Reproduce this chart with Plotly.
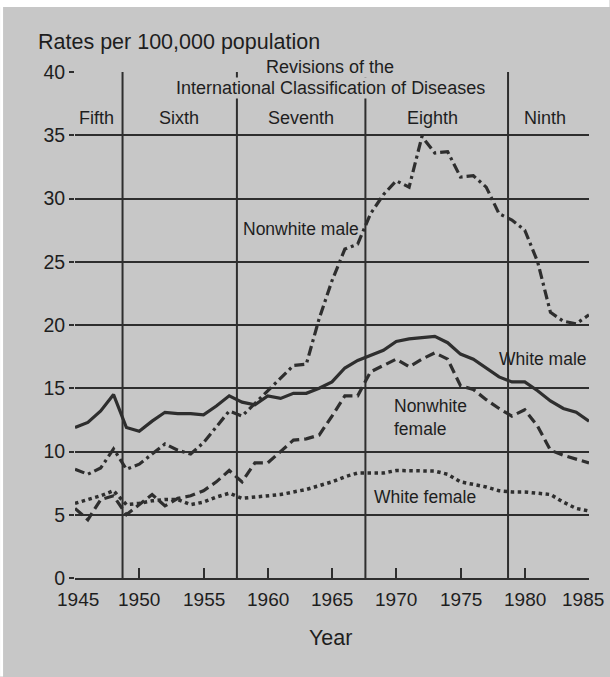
import plotly.graph_objects as go

years = list(range(1945, 1986))

white_male = [11.9, 12.3, 13.2, 14.5, 11.9, 11.6, 12.4, 13.1, 13.0, 13.0,
              12.9, 13.6, 14.4, 13.9, 13.7, 14.4, 14.2, 14.6, 14.6, 15.0,
              15.5, 16.6, 17.2, 17.6, 18.0, 18.7, 18.9, 19.0, 19.1, 18.6,
              17.7, 17.3, 16.6, 15.9, 15.5, 15.5, 14.8, 14.0, 13.4, 13.1, 12.4]

nonwhite_male = [8.6, 8.2, 8.7, 10.2, 8.6, 9.0, 9.8, 10.6, 10.1, 9.8,
                 10.7, 12.0, 13.2, 12.8, 13.8, 14.8, 15.8, 16.8, 16.9, 20.5,
                 23.5, 26.0, 26.4, 28.8, 30.3, 31.4, 30.9, 34.9, 33.6, 33.7,
                 31.7, 31.8, 30.9, 28.8, 28.3, 27.5, 25.0, 21.0, 20.3, 20.1, 20.8]

nonwhite_female = [5.5, 4.6, 6.2, 6.5, 5.0, 5.8, 6.6, 5.7, 6.3, 6.5,
                   6.9, 7.6, 8.5, 7.6, 9.1, 9.1, 10.0, 10.9, 11.0, 11.3,
                   12.8, 14.4, 14.4, 16.3, 16.8, 17.3, 16.7, 17.3, 17.8, 17.3,
                   15.2, 14.9, 14.1, 13.4, 12.8, 13.3, 12.0, 10.1, 9.7, 9.4, 9.1]

white_female = [5.9, 6.2, 6.5, 6.9, 5.8, 5.9, 6.1, 6.2, 6.2, 5.8,
                6.0, 6.4, 6.7, 6.3, 6.4, 6.5, 6.6, 6.8, 7.0, 7.3,
                7.6, 8.0, 8.3, 8.3, 8.3, 8.5, 8.5, 8.45, 8.45, 8.2,
                7.6, 7.4, 7.2, 6.9, 6.8, 6.8, 6.7, 6.6, 6.0, 5.5, 5.3]

revision_breaks = [1948.7, 1957.6, 1967.6, 1978.7]
revision_names = ["Fifth", "Sixth", "Seventh", "Eighth", "Ninth"]
x_ticks = list(range(1945, 1986, 5))
x_tick_labels = [str(v) for v in x_ticks]
y_ticks = list(range(0, 41, 5))

# ---- layout geometry (pixels) ----
W, H = 610, 677
L, R, T, B = 75, 20.5, 72, 98.5
PW = W - L - R
PH = H - T - B

def px(xp):
    return (xp - L) / PW

def py(yp):
    return (H - B - yp) / PH

BG = "#c7c7c7"
INK = "#2e2e2e"
TXT = "#1e1e1e"
FONT = "Liberation Sans, Arial, Helvetica, sans-serif"

fig = go.Figure()

series = [
    (white_male, "solid", 3.2),
    (nonwhite_female, "10px,5px", 3.2),
    (nonwhite_male, "10px,4px,3px,4px", 3.2),
    (white_female, "3.5px,3.5px", 3.5),
]
for vals, dash, w in series:
    fig.add_trace(go.Scatter(x=years, y=vals, mode="lines",
                             line=dict(color=INK, width=w, dash=dash),
                             hoverinfo="skip", showlegend=False))

shapes = []
for xb in revision_breaks:
    shapes.append(dict(type="line", xref="x", yref="y", x0=xb, x1=xb, y0=0, y1=40,
                       line=dict(color=INK, width=2), layer="below"))
# white strips at the edges of the scan
shapes.append(dict(type="rect", xref="paper", yref="paper", x0=px(0), x1=px(W),
                   y0=py(7), y1=py(0), fillcolor="white", line=dict(width=0), layer="below"))
shapes.append(dict(type="rect", xref="paper", yref="paper", x0=px(0), x1=px(3),
                   y0=py(H), y1=py(0), fillcolor="white", line=dict(width=0), layer="below"))

ann = []
def txt(text, xp, yp, size=16, xanchor="center", bg=None, pad=1, align="center"):
    d = dict(text=text, xref="paper", yref="paper", x=px(xp), y=py(yp),
             xanchor=xanchor, yanchor="middle", showarrow=False, align=align,
             font=dict(family=FONT, size=size, color=TXT), borderpad=pad)
    if bg:
        d["bgcolor"] = bg
    ann.append(d)

txt("Rates per 100,000 population", 36, 42, size=21.5, xanchor="left")
txt("Revisions of the", 330, 67, size=18, bg=BG, pad=0)
txt("International Classification of Diseases", 331, 88.5, size=18, bg=BG, pad=0)
for name, xc in zip(revision_names, [97, 179, 301.5, 432.7, 545]):
    txt(name, xc, 118, size=18)
txt("Nonwhite male", 241, 229, size=17.5, xanchor="left")
txt("White male", 497, 359, size=17.5, xanchor="left")
txt("Nonwhite<br>female", 392, 418, size=17.5, xanchor="left", align="left")
txt("White female", 372, 497, size=17.5, xanchor="left")
txt("Year", 331, 639, size=21.5)

# x tick labels placed at their axis values
for v, lab in zip(x_ticks, x_tick_labels):
    ann.append(dict(text=lab, xref="x", yref="paper", x=v, y=py(600),
                    xanchor="center", yanchor="middle", showarrow=False,
                    xshift=(-6 if v == x_ticks[-1] else (3 if v == x_ticks[0] else 0)),
                    font=dict(family=FONT, size=19, color=TXT)))

fig.update_layout(
    width=W, height=H,
    margin=dict(l=L, r=R, t=T, b=B, pad=0),
    paper_bgcolor=BG, plot_bgcolor=BG,
    shapes=shapes, annotations=ann,
    font=dict(family=FONT, color=TXT),
    xaxis=dict(range=[1945, 1985], tickvals=x_ticks, showticklabels=False,
               showgrid=False, zeroline=False, showline=True, linecolor=INK, linewidth=2,
               ticks="inside", ticklen=10, tickwidth=2, tickcolor=INK),
    yaxis=dict(range=[0, 40], tickvals=y_ticks, showgrid=True, gridcolor=INK, gridwidth=2,
               zeroline=False, showline=False,
               ticks="outside", ticklen=5, tickwidth=2, tickcolor=INK,
               tickfont=dict(family=FONT, size=19.5, color=TXT)),
)

fig.write_html("out.html")
